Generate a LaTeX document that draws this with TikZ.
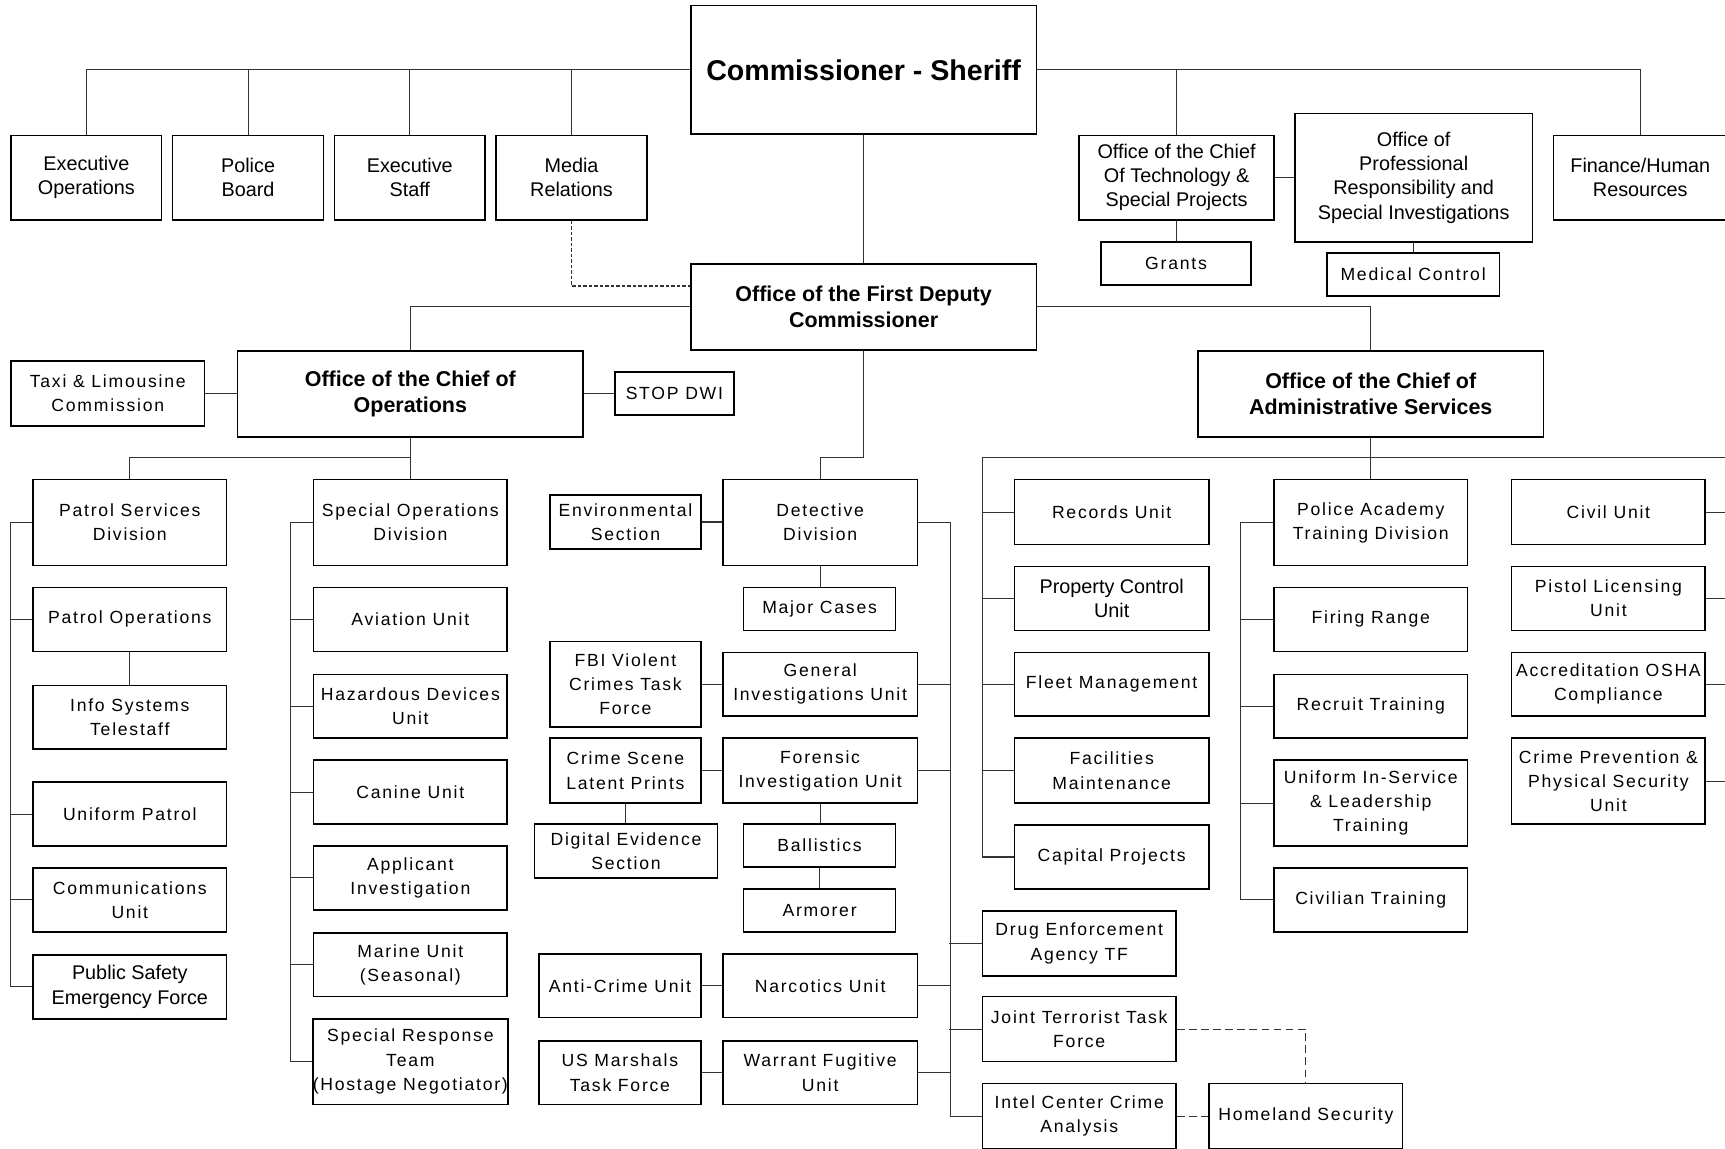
\documentclass[tikz,border=0pt]{standalone}
\usepackage{fontspec}
\setmainfont{Liberation Sans}
\newfontfamily\trkfont[LetterSpace=10]{Liberation Sans}
\newcommand\orgbox[7][box]{\node[#1,minimum width=#5pt,minimum height=#6pt] (#2) at (#3,#4) {#7};}
\tikzset{
  box/.style={draw=black, line width=1.4pt, inner sep=0pt, align=center, font=\fontsize{18}{22}\selectfont},
  tbox/.style={box, font=\trkfont\fontsize{16}{22}\selectfont},
  hbox/.style={box, font=\bfseries\fontsize{19.5}{24}\selectfont},
  cbox/.style={box, font=\bfseries\fontsize{26}{30}\selectfont},
  conn/.style={draw=black!80, line width=1pt},
  dashline/.style={conn, dash pattern=on 3pt off 2pt},
  dashlong/.style={conn, dash pattern=on 7pt off 4pt},
}
\begin{document}
\begin{tikzpicture}[x=1pt,y=-1pt]
\useasboundingbox (0,0) rectangle (1568,1044);
\clip (0,0) rectangle (1568,1044);
% ---- top level
\orgbox[cbox]{comm}{785}{63.5}{314}{117}{Commissioner - Sheriff}
\orgbox{eo}{78.5}{161.5}{137}{77}{Executive\\Operations}
\orgbox{pb}{225.5}{161.5}{137}{77}{Police\\Board}
\orgbox{es}{372.5}{161.5}{137}{77}{Executive\\Staff}
\orgbox{mr}{519.5}{161.5}{137}{77}{Media\\Relations}
\orgbox{tech}{1069.5}{161.5}{177}{77}{Office of the Chief\\Of Technology \&\\Special Projects}
\orgbox[tbox]{grants}{1069}{239.5}{136}{39}{Grants}
\orgbox{opr}{1285}{161.5}{216}{117}{Office of\\Professional\\Responsibility and\\Special Investigations}
\orgbox[tbox]{med}{1284.5}{249.5}{157}{39}{Medical Control}
\orgbox{fin}{1491}{161.5}{158}{77}{Finance/Human\\Resources}
\orgbox[hbox]{fdc}{785}{279}{314}{78}{Office of the First Deputy\\Commissioner}
\orgbox[hbox]{ops}{373}{358}{314}{78}{Office of the Chief of\\Operations}
\orgbox[tbox]{taxi}{98}{357.5}{176}{59}{Taxi \& Limousine\\Commission}
\orgbox[tbox]{dwi}{613}{357.5}{108}{39}{STOP DWI}
\orgbox[hbox]{adm}{1246}{358}{314}{78}{Office of the Chief of\\Administrative Services}
% ---- patrol column
\orgbox[tbox]{psd}{118}{475}{176}{78}{Patrol Services\\Division}
\orgbox[tbox]{pop}{118}{563}{176}{58}{Patrol Operations}
\orgbox[tbox]{ist}{118}{652}{176}{58}{Info Systems\\Telestaff}
\orgbox[tbox]{up}{118}{740}{176}{58}{Uniform Patrol}
\orgbox[tbox]{cu}{118}{818}{176}{58}{Communications\\Unit}
\orgbox{psef}{118}{897}{176}{58}{Public Safety\\Emergency Force}
% ---- special operations column
\orgbox[tbox]{sod}{373}{475}{176}{78}{Special Operations\\Division}
\orgbox[tbox]{av}{373}{563}{176}{58}{Aviation Unit}
\orgbox[tbox]{hd}{373}{642}{176}{58}{Hazardous Devices\\Unit}
\orgbox[tbox]{can}{373}{720}{176}{58}{Canine Unit}
\orgbox[tbox]{ai}{373}{798}{176}{58}{Applicant\\Investigation}
\orgbox[tbox]{mu}{373}{877}{176}{58}{Marine Unit\\(Seasonal)}
\orgbox[tbox]{srt}{373}{965}{176}{78}{Special Response\\Team\\(Hostage Negotiator)}
% ---- detective column
\orgbox[tbox]{dd}{745.5}{475}{177}{78}{Detective\\Division}
\orgbox[tbox]{env}{568.5}{474.5}{137}{49}{Environmental\\Section}
\orgbox[tbox]{mc}{745}{553.5}{138}{39}{Major Cases}
\orgbox[tbox]{fbi}{568.5}{622}{137}{78}{FBI Violent\\Crimes Task\\Force}
\orgbox[tbox]{giu}{745.5}{622}{177}{58}{General\\Investigations Unit}
\orgbox[tbox]{csl}{568.5}{700.5}{137}{59}{Crime Scene\\Latent Prints}
\orgbox[tbox]{fiu}{745.5}{700.5}{177}{59}{Forensic\\Investigation Unit}
\orgbox[tbox]{des}{569}{773.5}{166}{49}{Digital Evidence\\Section}
\orgbox[tbox]{bal}{745}{768.5}{138}{39}{Ballistics}
\orgbox[tbox]{arm}{745}{827.5}{138}{39}{Armorer}
\orgbox[tbox]{acu}{563.5}{896}{147}{58}{Anti-Crime Unit}
\orgbox[tbox]{nar}{745.5}{896}{177}{58}{Narcotics Unit}
\orgbox[tbox]{usm}{563.5}{975}{147}{58}{US Marshals\\Task Force}
\orgbox[tbox]{wfu}{745.5}{975}{177}{58}{Warrant Fugitive\\Unit}
\orgbox[tbox]{dea}{981}{857.5}{176}{59}{Drug Enforcement\\Agency TF}
\orgbox[tbox]{jtt}{981}{935.5}{176}{59}{Joint Terrorist Task\\Force}
\orgbox[tbox]{icc}{981}{1014.5}{176}{59}{Intel Center Crime\\Analysis}
\orgbox[tbox]{hs}{1187}{1014.5}{176}{59}{Homeland Security}
% ---- administrative columns
\orgbox[tbox]{rec}{1010.5}{465.5}{177}{59}{Records Unit}
\orgbox{pcu}{1010.5}{544}{177}{58}{Property Control\\Unit}
\orgbox[tbox]{fm}{1010.5}{622}{177}{58}{Fleet Management}
\orgbox[tbox]{fac}{1010.5}{700.5}{177}{59}{Facilities\\Maintenance}
\orgbox[tbox]{cap}{1010.5}{779}{177}{58}{Capital Projects}
\orgbox[tbox]{pa}{1246}{475}{176}{78}{Police Academy\\Training Division}
\orgbox[tbox]{fr}{1246}{563}{176}{58}{Firing Range}
\orgbox[tbox]{rt}{1246}{642}{176}{58}{Recruit Training}
\orgbox[tbox]{uis}{1246}{730}{176}{78}{Uniform In-Service\\\& Leadership\\Training}
\orgbox[tbox]{ct}{1246}{818}{176}{58}{Civilian Training}
\orgbox[tbox]{civ}{1462}{465.5}{176}{59}{Civil Unit}
\orgbox[tbox]{pl}{1462}{544}{176}{58}{Pistol Licensing\\Unit}
\orgbox[tbox]{acc}{1462}{622}{176}{58}{Accreditation OSHA\\Compliance}
\orgbox[tbox]{cp}{1462}{710}{176}{78}{Crime Prevention \&\\Physical Security\\Unit}
% ---- junction coordinates
\coordinate (dj) at (785,416);
\coordinate (oj) at (373,416);
\coordinate (al) at (893,416);
\coordinate (ar) at (1580,416);
% ---- connectors: top
\draw[conn] (comm.west) -| (eo.north);
\draw[conn] (pb.north |- comm.west) -- (pb.north);
\draw[conn] (es.north |- comm.west) -- (es.north);
\draw[conn] (mr.north |- comm.west) -- (mr.north);
\draw[conn] (comm.east) -| (fin.north);
\draw[conn] (tech.north |- comm.east) -- (tech.north);
\draw[conn] (tech.east) -- (opr.west);
\draw[conn] (tech.south) -- (tech.south |- grants.north);
\draw[conn] (opr.south) -- (opr.south |- med.north);
\draw[conn] (comm.south) -- (fdc.north);
\draw[dashline] (mr.south) |- ([yshift=19pt]fdc.west);
\draw[conn] (fdc.west) -| (ops.north);
\draw[conn] (fdc.east) -| (adm.north);
\draw[conn] (fdc.south) -- (dj) -| (dd.north);
\draw[conn] (taxi.east) -- (taxi.east -| ops.west);
\draw[conn] (ops.east) -- (ops.east -| dwi.west);
% ---- operations
\draw[conn] (ops.south) -- (sod.north);
\draw[conn] (psd.north) |- (oj);
\draw[conn] (psd.west) -- ++(-20,0) |- (psef.west);
\foreach \n in {pop,up,cu} \draw[conn] (\n.west) -- ++(-20,0);
\draw[conn] (pop.south) -- (ist.north);
\draw[conn] (sod.west) -- ++(-20,0) |- (srt.west);
\foreach \n in {av,hd,can,ai,mu} \draw[conn] (\n.west) -- ++(-20,0);
% ---- detective
\draw[conn] (env.east) -- (env.east -| dd.west);
\draw[conn] (dd.south) -- (dd.south |- mc.north);
\draw[conn] (fbi.east) -- (giu.west);
\draw[conn] (csl.east) -- (fiu.west);
\draw[conn] (csl.south) -- (csl.south |- des.north);
\draw[conn] (fiu.south) -- (fiu.south |- bal.north);
\draw[conn] (bal.south) -- (arm.north);
\draw[conn] (acu.east) -- (nar.west);
\draw[conn] (usm.east) -- (wfu.west);
\draw[conn] (dd.east) -- ++(29,0) |- (icc.west);
\foreach \n in {giu,fiu,nar,wfu} \draw[conn] (\n.east) -- ++(29,0);
\foreach \n in {dea,jtt} \draw[conn] (\n.west) -- ++(-30,0);
\draw[dashlong] (jtt.east) -| (hs.north);
\draw[dashlong] (icc.east) -- (hs.west);
% ---- administrative
\draw[conn] (adm.south) -- (pa.north);
\draw[conn] (al) -- (ar);
\draw[conn] (al) |- (cap.west);
\foreach \n in {rec,pcu,fm,fac} \draw[conn] (\n.west) -- (\n.west -| al);
\draw[conn] (pa.west) -- ++(-30,0) |- (ct.west);
\foreach \n in {fr,rt,uis} \draw[conn] (\n.west) -- ++(-30,0);
\draw[conn] (ar) |- (cp.east);
\foreach \n in {civ,pl,acc} \draw[conn] (\n.east) -- (\n.east -| ar);
\end{tikzpicture}
\end{document}
